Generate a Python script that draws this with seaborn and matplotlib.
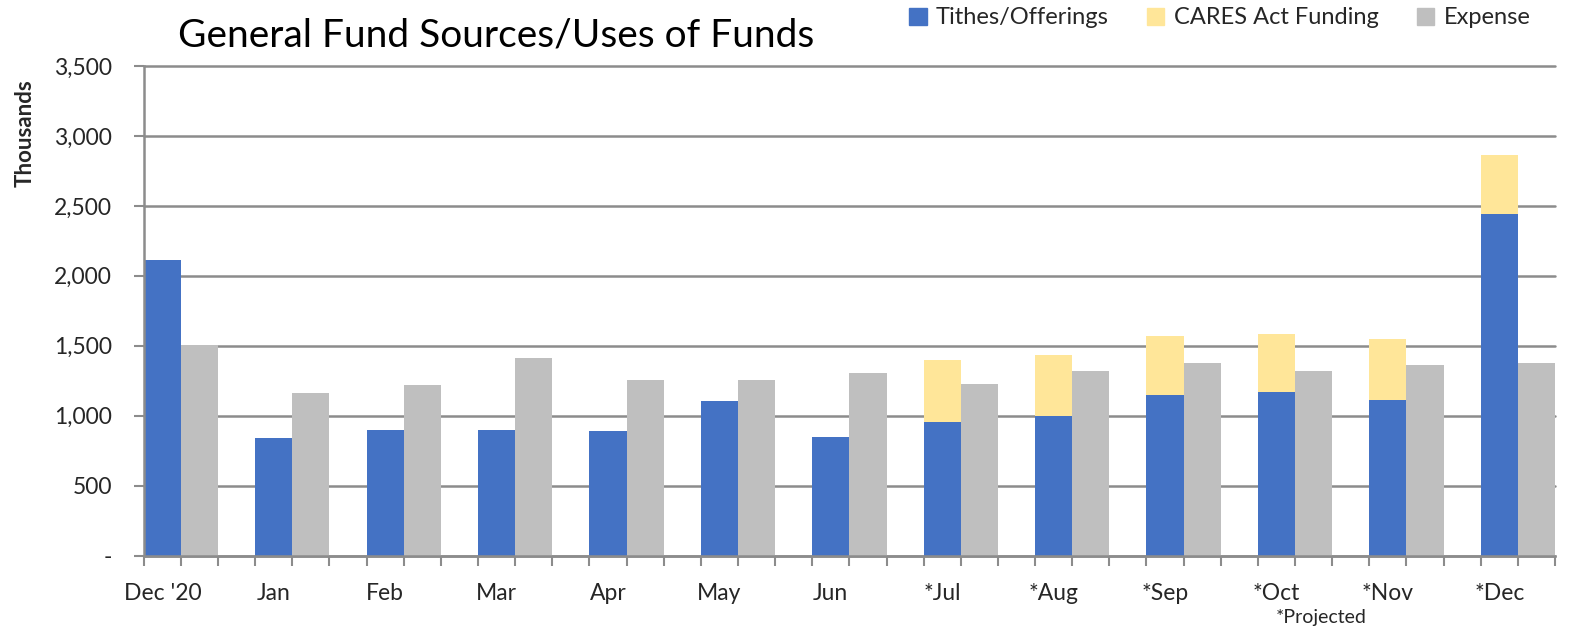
import numpy as np
import pandas as pd
import matplotlib
matplotlib.use("Agg")
import matplotlib.pyplot as plt
import seaborn as sns
from matplotlib.patches import Patch
from matplotlib.ticker import FixedLocator, FuncFormatter

months = ["Dec '20", "Jan", "Feb", "Mar", "Apr", "May", "Jun",
          "*Jul", "*Aug", "*Sep", "*Oct", "*Nov", "*Dec"]
tithes = [2111, 842, 897, 897, 887, 1106, 845, 957, 995, 1150, 1167, 1110, 2443]
cares = [0, 0, 0, 0, 0, 0, 0, 441, 441, 419, 419, 438, 421]
expense = [1504, 1162, 1219, 1412, 1257, 1257, 1302, 1226, 1321, 1379, 1321, 1360, 1379]
yticks = [0, 500, 1000, 1500, 2000, 2500, 3000, 3500]

C_BLUE = "#4472C4"
C_YEL = "#FFE699"
C_GRAY = "#BFBFBF"
C_GRID = "#8C8C8C"

sns.set_theme(style="white")
plt.rcParams["font.family"] = ["Lato", "DejaVu Sans"]

n = len(months)
idx = np.arange(n)
blue_x = idx * 3 + 0.5
gray_x = idx * 3 + 1.5
total = [t + c for t, c in zip(tithes, cares)]

df_total = pd.DataFrame({"x": blue_x, "y": total})
df_blue = pd.DataFrame({"x": blue_x, "y": tithes})
df_gray = pd.DataFrame({"x": gray_x, "y": expense})

fig = plt.figure(figsize=(15.73, 6.29), dpi=100)
ax = fig.add_axes([143.75 / 1573, 1 - 555.5 / 629, (1555 - 143.75) / 1573, (555.5 - 66) / 629])

kw = dict(native_scale=True, width=1.0 / 3.0, errorbar=None, linewidth=0, saturation=1, zorder=3)
sns.barplot(data=df_total, x="x", y="y", color=C_YEL, ax=ax, **kw)
sns.barplot(data=df_blue, x="x", y="y", color=C_BLUE, ax=ax, **kw)
sns.barplot(data=df_gray, x="x", y="y", color=C_GRAY, ax=ax, **kw)

ax.set_xlim(0, 3 * n - 1)
ax.set_ylim(0, 3500)
ax.set_xlabel("")
ax.set_ylabel("")

# y axis
ax.yaxis.set_major_locator(FixedLocator(yticks))
ax.yaxis.set_major_formatter(FuncFormatter(lambda v, p: "-" if v == 0 else f"{int(v):,}"))
ax.tick_params(axis="y", which="major", left=True, length=7, width=1.5, color=C_GRID,
               labelsize=16.5, pad=16)
ax.grid(axis="y", color=C_GRID, linewidth=1.8, zorder=0)
ax.set_axisbelow(True)
for gl in ax.get_ygridlines():
    gl.set_clip_on(False)

# x axis
ax.xaxis.set_major_locator(FixedLocator(blue_x))
ax.set_xticklabels(months)
ax.xaxis.set_minor_locator(FixedLocator(np.arange(0, 3 * n)))
ax.tick_params(axis="x", which="major", bottom=False, length=0, labelsize=16.5, pad=20)
ax.tick_params(axis="x", which="minor", bottom=True, length=7, width=1.5, color=C_GRID)

for s in ["top", "right"]:
    ax.spines[s].set_visible(False)
for s in ["left", "bottom"]:
    ax.spines[s].set_color(C_GRID)
    ax.spines[s].set_linewidth(1.8)
    ax.spines[s].set_zorder(4)

fig.text(178 / 1573, 1 - 35 / 629, "General Fund Sources/Uses of Funds", fontsize=28,
         ha="left", va="center", color="black")
fig.text(25 / 1573, 1 - 133 / 629, "Thousands", rotation=90, fontsize=16,
         fontweight="bold", ha="center", va="center")
fig.text(1321 / 1573, 1 - 617 / 629, "*Projected", fontsize=14, ha="center", va="center")

handles = [Patch(color=C_BLUE, label="Tithes/Offerings"),
           Patch(color=C_YEL, label="CARES Act Funding"),
           Patch(color=C_GRAY, label="Expense")]
fig.legend(handles=handles, loc="center right", bbox_to_anchor=(1540 / 1573, 1 - 18 / 629),
           ncol=3, frameon=False, fontsize=17, handlelength=0.75, handleheight=0.75,
           handletextpad=0.4, columnspacing=1.6, borderaxespad=0)

fig.savefig("out.png", dpi=100)
